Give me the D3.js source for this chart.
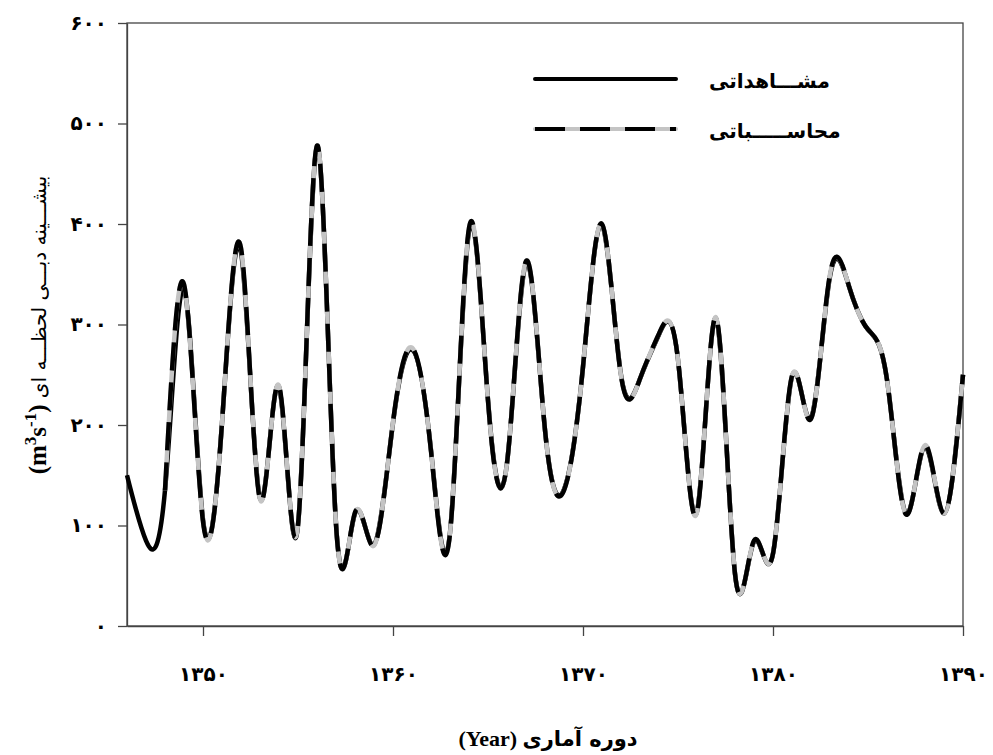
<!DOCTYPE html>
<html>
<head>
<meta charset="utf-8">
<script src="https://cdn.jsdelivr.net/npm/d3@7"></script>
<style>
  html, body { margin: 0; padding: 0; background: #fff; }
  svg { display: block; }
</style>
</head>
<body>
<svg id="chart" width="993" height="755"></svg>
<script>
// ---- data ----
const years = [1346,1347,1348,1349,1350,1351,1352,1353,1354,1355,1356,1357,1358,1359,1360,
  1361,1362,1363,1364,1365,1366,1367,1368,1369,1370,1371,1372,1373,1374,1375,
  1376,1377,1378,1379,1380,1381,1382,1383,1384,1385,1386,1387,1388,1389,1390];
const observed = [150,85,135,335,106,202,372,127,238,100,477,102,112,81,202,
  275,175,93,393,225,162,361,195,136,258,399,250,246,290,265,
  114,306,52,84,72,248,207,348,338,295,245,112,178,112,250];
const calcYears = [1348,1349,1350,1351,1352,1353,1354,1355,1356,1357,1358,1359,1360,
  1361,1362,1363,1364,1365,1366,1367,1368,1369,1370,1371,1372,1373,1374,1375,
  1376,1377,1378,1379,1380,1381,1382,1383,1384,1385,1386,1387,1388,1389,1390];
const calculated = [135,340,104,202,376,126,239,101,478,101,113,80,203,
  277,174,92,396,224,162,363,195,135,258,400,249,246,291,265,
  113,307,52,85,72,249,206,350,338,295,245,111,180,112,250];
const xTicks = [1350,1360,1370,1380,1390];
const yTicks = [0,100,200,300,400,500,600];
const seriesNames = ["مشـــاهداتی", "محاســـــباتی"];
const xTitle = "دوره آماری";
const yTitle = "بیشـــینه دبـــی لحظـــه ای";

// ---- helpers ----
const faDigits = "۰۱۲۳۴۵۶۷۸۹";
const toFa = n => String(n).replace(/[0-9]/g, d => faDigits[+d]);

const svg = d3.select("#chart");
const L = 127, R = 963, T = 23, B = 626;
const x = d3.scaleLinear().domain([1346, 1390]).range([L, R]);
const y = d3.scaleLinear().domain([0, 600]).range([B, T]);

// frame
svg.append("rect").attr("x", L).attr("y", T).attr("width", R - L).attr("height", B - T)
  .attr("fill", "none").attr("stroke", "#444").attr("stroke-width", 1.3);

// axes
const yAxis = svg.append("g").attr("transform", `translate(${L},0)`)
  .call(d3.axisLeft(y).tickValues(yTicks).tickSize(9).tickSizeOuter(0).tickPadding(11).tickFormat(toFa));
const xAxis = svg.append("g").attr("transform", `translate(0,${B})`)
  .call(d3.axisBottom(x).tickValues(xTicks).tickSize(10).tickSizeOuter(0).tickPadding(31).tickFormat(toFa));
[yAxis, xAxis].forEach(g => {
  g.select(".domain").attr("stroke", "#444").attr("stroke-width", 1.3);
  g.selectAll(".tick line").attr("stroke", "#444").attr("stroke-width", 1.3);
  g.selectAll(".tick text").attr("fill", "#000")
    .style("font-family", "'DejaVu Sans', sans-serif").style("font-weight", "bold").style("font-size", "20px");
});

// lines
const line = d3.line().curve(d3.curveNatural);
const obsPts = years.map((yr, i) => [x(yr), y(observed[i])]);
const calPts = calcYears.map((yr, i) => [x(yr), y(calculated[i])]);

svg.append("path").attr("d", line(obsPts)).attr("fill", "none")
  .attr("stroke", "#000").attr("stroke-width", 4.5).attr("stroke-linejoin", "round");
svg.append("path").attr("d", line(calPts)).attr("fill", "none")
  .attr("stroke", "#c4c4c4").attr("stroke-width", 4.5);
svg.append("path").attr("d", line(calPts)).attr("fill", "none")
  .attr("stroke", "#000").attr("stroke-width", 4.5).attr("stroke-dasharray", "28,12");

// legend
const lg = svg.append("g");
lg.append("line").attr("x1", 535).attr("x2", 676).attr("y1", 79).attr("y2", 79)
  .attr("stroke", "#000").attr("stroke-width", 4).attr("stroke-linecap", "round");
lg.append("line").attr("x1", 535).attr("x2", 676).attr("y1", 129).attr("y2", 129)
  .attr("stroke", "#c4c4c4").attr("stroke-width", 4).attr("stroke-linecap", "round");
lg.append("line").attr("x1", 535).attr("x2", 676).attr("y1", 129).attr("y2", 129)
  .attr("stroke", "#000").attr("stroke-width", 4).attr("stroke-dasharray", "30,15");
lg.selectAll("text.leg").data(seriesNames).enter().append("text").attr("class", "leg")
  .attr("x", 709).attr("y", (d, i) => 88 + i * 50)
  .style("font-family", "'DejaVu Sans', sans-serif").style("font-weight", "bold").style("font-size", "20px")
  .text(d => d);

// x title
const xt = svg.append("text").attr("x", 548).attr("y", 746).attr("text-anchor", "middle")
  .style("font-weight", "bold").style("font-size", "21px");
xt.append("tspan").style("font-family", "'Liberation Serif', serif").style("font-size", "22px").text("(Year) ");
xt.append("tspan").style("font-family", "'DejaVu Sans', sans-serif").text(xTitle);

// y title
const yt = svg.append("text").attr("transform", "translate(46,325) rotate(-90)")
  .attr("text-anchor", "middle").style("font-size", "20px");
const serif = "'Liberation Serif', serif";
yt.append("tspan").style("font-family", serif).style("font-weight", "bold").style("font-size", "25px").text("(m");
yt.append("tspan").style("font-family", serif).style("font-weight", "bold").style("font-size", "17px").attr("dy", -10).text("3");
yt.append("tspan").style("font-family", serif).style("font-weight", "bold").style("font-size", "25px").attr("dy", 10).text("s");
yt.append("tspan").style("font-family", serif).style("font-weight", "bold").style("font-size", "17px").attr("dy", -10).text("-1");
yt.append("tspan").style("font-family", serif).style("font-weight", "bold").style("font-size", "25px").attr("dy", 10).text(") ");
yt.append("tspan").style("font-family", "'DejaVu Sans', sans-serif").style("font-size", "20px").text(yTitle);
</script>
</body>
</html>
